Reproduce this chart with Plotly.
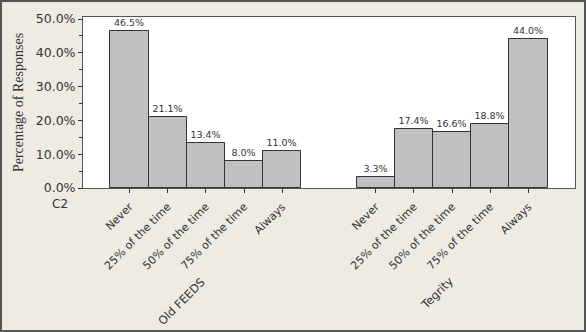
import plotly.graph_objects as go

categories = ["Never", "25% of the time", "50% of the time", "75% of the time", "Always"]
groups = ["Old FEEDS", "Tegrity"]
old_feeds = [46.5, 21.1, 13.4, 8.0, 11.0]
tegrity = [3.3, 17.4, 16.6, 18.8, 44.0]
y_ticks = [0, 10, 20, 30, 40, 50]

W, H = 586, 332
L, R, T, B = 83, 11, 17, 144
GAP = 1.45

series = [old_feeds, tegrity]
xs, ys, texts, tickvals, ticktext, centers = [], [], [], [], [], []
for g, vals in enumerate(series):
    off = g * (len(categories) + GAP)
    for i, v in enumerate(vals):
        xs.append(off + i)
        ys.append(v)
        texts.append(f"{v:.1f}%")
        tickvals.append(off + i)
        ticktext.append(categories[i])
    centers.append(off + (len(categories) - 1) / 2)

fig = go.Figure()
fig.add_trace(go.Bar(
    x=xs, y=ys, width=1.0,
    marker=dict(color="#c0c0c0", line=dict(color="#333333", width=1)),
    text=texts, textposition="outside", cliponaxis=False,
    textfont=dict(family="DejaVu Sans", size=9.5, color="#333333"),
    showlegend=False,
))

xmin = -0.5 - 0.72
xmax = xs[-1] + 0.5 + 0.72

fig.update_layout(
    width=W, height=H,
    margin=dict(l=L, r=R, t=T, b=B, pad=0),
    paper_bgcolor="#eeebe3",
    plot_bgcolor="#ffffff",
    bargap=0,
    font=dict(family="DejaVu Sans", color="#333333"),
    xaxis=dict(
        range=[xmin, xmax], tickmode="array", tickvals=tickvals, ticktext=ticktext,
        tickangle=-45, ticks="outside", ticklen=4, tickcolor="#333333",
        ticklabelstandoff=3,
        tickfont=dict(size=11, color="#333333"),
        showline=True, linecolor="#555555", linewidth=1, mirror=True,
        showgrid=False, zeroline=False,
    ),
    yaxis=dict(
        range=[0, 50.6], tickvals=y_ticks, ticktext=[f"{v:.1f}%" for v in y_ticks],
        ticks="outside", ticklen=4, tickcolor="#333333",
        minor=dict(dtick=5, ticks="outside", ticklen=3, tickcolor="#333333"),
        tickfont=dict(size=12.5, color="#333333"),
        showline=True, linecolor="#555555", linewidth=1, mirror=True,
        showgrid=False, zeroline=False,
        title=dict(text="Percentage of Responses", standoff=8,
                   font=dict(family="Liberation Serif", size=14, color="#333333")),
    ),
)

pw = W - L - R
ph = H - T - B
# group labels
shifts = [-24, -15]
label_y = [301, 293]
for g, name in enumerate(groups):
    fig.add_annotation(
        x=centers[g], xref="x", y=(T + ph - label_y[g]) / ph, yref="paper",
        text=name, showarrow=False, textangle=-45, xshift=shifts[g],
        xanchor="center", yanchor="middle",
        font=dict(family="DejaVu Sans", size=11.5, color="#333333"),
    )

fig.add_annotation(
    x=(60 - L) / pw, xref="paper", y=(T + ph - 204) / ph, yref="paper",
    text="C2", showarrow=False, xanchor="center", yanchor="middle",
    font=dict(family="DejaVu Sans", size=12, color="#333333"),
)

# outer frame
fig.add_shape(
    type="rect", xref="paper", yref="paper",
    x0=(1 - L) / pw, x1=(W - 1 - L) / pw,
    y0=(T + ph - (H - 1)) / ph, y1=(T + ph - 1) / ph,
    line=dict(color="#555555", width=2), fillcolor="rgba(0,0,0,0)",
)

fig.write_html("out.html")
